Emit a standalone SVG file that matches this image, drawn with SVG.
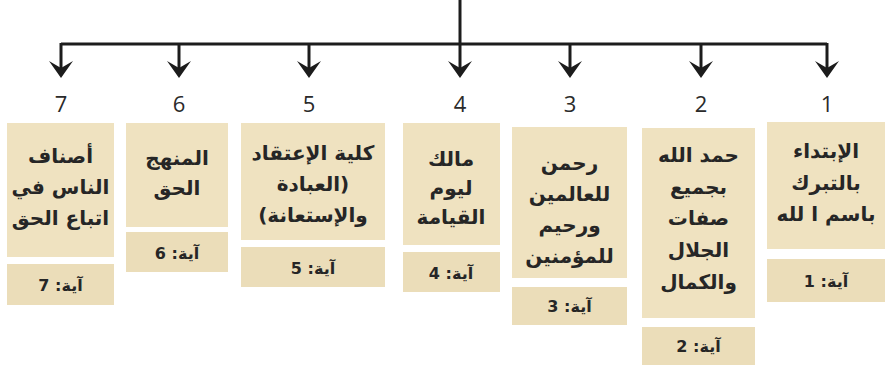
<svg xmlns="http://www.w3.org/2000/svg" width="885" height="367" viewBox="0 0 885 367">
<style>
.bg{fill:#ffffff}
.box{fill:#efe2c0}
.lab{fill:#ebddb9}
.t{font-family:"DejaVu Sans",sans-serif;font-weight:bold;font-size:20px;fill:#262626;text-anchor:middle;direction:rtl;unicode-bidi:embed}
.a{font-family:"DejaVu Sans",sans-serif;font-weight:bold;font-size:16px;fill:#262626;text-anchor:middle;direction:rtl;unicode-bidi:embed}
.n{font-family:"Open Sans",sans-serif;font-size:22px;fill:#2a2a2a;text-anchor:middle}
.ln{stroke:#1c1c1c;stroke-width:3;fill:none}
.ah{fill:#1c1c1c}
</style>
<defs>
<path id="head" d="M0 0 L-12 -17 L0 -10 L12 -17 Z"/>
</defs>
<rect class="bg" x="0" y="0" width="885" height="367"/>
<g id="connectors">
<line class="ln" x1="460" y1="0" x2="460" y2="44"/>
<line class="ln" x1="61" y1="44" x2="827" y2="44"/>
<line class="ln" x1="61" y1="43" x2="61" y2="70"/>
<line class="ln" x1="179" y1="43" x2="179" y2="70"/>
<line class="ln" x1="309" y1="43" x2="309" y2="70"/>
<line class="ln" x1="460" y1="43" x2="460" y2="70"/>
<line class="ln" x1="570" y1="43" x2="570" y2="70"/>
<line class="ln" x1="701" y1="43" x2="701" y2="70"/>
<line class="ln" x1="827" y1="43" x2="827" y2="70"/>
<use href="#head" class="ah" x="61" y="78"/>
<use href="#head" class="ah" x="179" y="78"/>
<use href="#head" class="ah" x="309" y="78"/>
<use href="#head" class="ah" x="460" y="78"/>
<use href="#head" class="ah" x="570" y="78"/>
<use href="#head" class="ah" x="701" y="78"/>
<use href="#head" class="ah" x="827" y="78"/>
</g>
<g id="node7">
<text class="n" x="61" y="112">7</text>
<rect class="box" x="7" y="123" width="107" height="134"/>
<text class="t" x="60.5" y="163">أصناف</text>
<text class="t" x="60.5" y="194">الناس في</text>
<text class="t" x="60.5" y="225">اتباع الحق</text>
<rect class="lab" x="7" y="264" width="107" height="41"/>
<text class="a" x="60.5" y="291">آية: 7</text>
</g>
<g id="node6">
<text class="n" x="179" y="112">6</text>
<rect class="box" x="126" y="123" width="102" height="104"/>
<text class="t" x="177" y="165">المنهج</text>
<text class="t" x="177" y="195">الحق</text>
<rect class="lab" x="126" y="232" width="102" height="40"/>
<text class="a" x="177" y="259">آية: 6</text>
</g>
<g id="node5">
<text class="n" x="309" y="112">5</text>
<rect class="box" x="241" y="123" width="144" height="117"/>
<text class="t" x="313" y="160">كلية الإعتقاد</text>
<text class="t" x="313" y="191">(العبادة</text>
<text class="t" x="313" y="222">والإستعانة)</text>
<rect class="lab" x="241" y="247" width="144" height="40"/>
<text class="a" x="313" y="274">آية: 5</text>
</g>
<g id="node4">
<text class="n" x="460" y="112">4</text>
<rect class="box" x="403" y="123" width="97" height="122"/>
<text class="t" x="451" y="166">مالك</text>
<text class="t" x="451" y="195">ليوم</text>
<text class="t" x="451" y="224">القيامة</text>
<rect class="lab" x="403" y="252" width="97" height="40"/>
<text class="a" x="451" y="279">آية: 4</text>
</g>
<g id="node3">
<text class="n" x="570" y="112">3</text>
<rect class="box" x="512" y="127" width="115" height="151"/>
<text class="t" x="569.5" y="170">رحمن</text>
<text class="t" x="569.5" y="201">للعالمين</text>
<text class="t" x="569.5" y="232">ورحيم</text>
<text class="t" x="569.5" y="263">للمؤمنين</text>
<rect class="lab" x="512" y="287" width="115" height="38"/>
<text class="a" x="569.5" y="312">آية: 3</text>
</g>
<g id="node2">
<text class="n" x="701" y="112">2</text>
<rect class="box" x="642" y="128" width="113" height="190"/>
<text class="t" x="698.5" y="162">حمد الله</text>
<text class="t" x="698.5" y="194">بجميع</text>
<text class="t" x="698.5" y="225">صفات</text>
<text class="t" x="698.5" y="257">الجلال</text>
<text class="t" x="698.5" y="289">والكمال</text>
<rect class="lab" x="642" y="327" width="113" height="38"/>
<text class="a" x="698.5" y="352">آية: 2</text>
</g>
<g id="node1">
<text class="n" x="827" y="112">1</text>
<rect class="box" x="767" y="122" width="118" height="127"/>
<text class="t" x="826" y="158">الإبتداء</text>
<text class="t" x="826" y="190">بالتبرك</text>
<text class="t" x="826" y="221">باسم ا لله</text>
<rect class="lab" x="767" y="259" width="118" height="43"/>
<text class="a" x="826" y="287">آية: 1</text>
</g>
</svg>
